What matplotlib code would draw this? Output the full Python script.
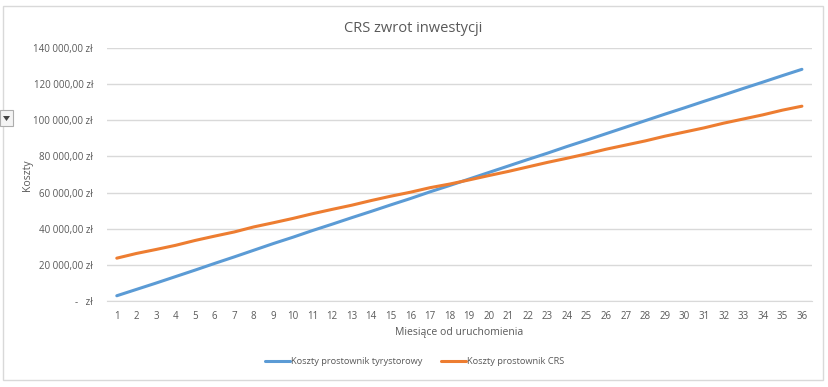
import numpy as np
import matplotlib.pyplot as plt
from matplotlib.patches import Rectangle, Polygon
from matplotlib.ticker import FuncFormatter

months = list(range(1, 37))
koszty_tyrystor = [2900, 6400, 9900, 13500, 17100, 20800, 24400, 28100, 31800, 35300,
                   39000, 42500, 46100, 49600, 53200, 56700, 60400, 63900, 67500, 71100,
                   74700, 78300, 81800, 85500, 89000, 92600, 96200, 99800, 103400, 106900,
                   110500, 114000, 117600, 121100, 124700, 128200]
koszty_crs = [23700, 26300, 28500, 30800, 33500, 35900, 38200, 41000, 43300, 45700,
              48300, 50700, 53000, 55600, 58000, 60200, 62700, 64700, 67000, 69400,
              71700, 74200, 76700, 79000, 81400, 84000, 86300, 88600, 91200, 93500,
              95800, 98400, 100700, 103000, 105600, 107800]
yticks = [0, 20000, 40000, 60000, 80000, 100000, 120000, 140000]

plt.rcParams['font.family'] = ['Open Sans', 'DejaVu Sans']
txt = '#595959'
grid = '#d9d9d9'

fig = plt.figure(figsize=(8.29, 3.87), dpi=100)
ax = fig.add_axes([107/829, 1-301/387, (811.7-107)/829, (301-48)/387])

ax.plot(months, koszty_tyrystor, color='#5B9BD5', lw=2.2, solid_capstyle='round',
        label='Koszty prostownik tyrystorowy')
ax.plot(months, koszty_crs, color='#ED7D31', lw=2.2, solid_capstyle='round',
        label='Koszty prostownik CRS')

def zl(v, pos):
    if v == 0:
        return '-   zł'
    s = '{:,.2f}'.format(v).replace(',', ' ').replace('.', ',')
    return s + ' zł'

ax.set_xlim(0.5, 36.5)
ax.set_ylim(0, 140000)
ax.set_yticks(yticks)
ax.yaxis.set_major_formatter(FuncFormatter(zl))
ax.set_xticks(months)
ax.grid(axis='y', color=grid, lw=1)
ax.set_axisbelow(True)
for s in ['top', 'right', 'left']:
    ax.spines[s].set_visible(False)
ax.spines['bottom'].set_color(grid)
ax.tick_params(length=0, labelsize=7, labelcolor=txt)
ax.tick_params(axis='y', pad=10)
ax.tick_params(axis='x', pad=7)

ax.set_xlabel('Miesiące od uruchomienia', fontsize=7.5, color=txt, labelpad=4)
fig.text(27/829, 1-175/387, 'Koszty', rotation=90, fontsize=7.5, color=txt,
         ha='center', va='center')
fig.text(413/829, 1-28/387, 'CRS zwrot inwestycji', fontsize=10.5, color=txt,
         ha='center', va='center')

fig.legend(*ax.get_legend_handles_labels(), loc='center', bbox_to_anchor=(415/829, 1-362/387),
           ncol=2, frameon=False, fontsize=6.7, labelcolor=txt, handlelength=2.7,
           handletextpad=0.1, columnspacing=2.0, borderaxespad=0, borderpad=0)

# chart border and the little filter button
fig.patches.append(Rectangle((3/829, 1-380/387), 820/829, 374/387, transform=fig.transFigure,
                             fill=False, ec=grid, lw=1))
fig.patches.append(Rectangle((0, 1-126/387), 13/829, 16/387, transform=fig.transFigure,
                             fc='#f4f4f4', ec='#adadad', lw=0.8))
fig.patches.append(Polygon([(3/829, 1-116/387), (10/829, 1-116/387), (6.5/829, 1-121/387)],
                           closed=True, transform=fig.transFigure, fc='#444444', ec='none'))

fig.savefig('out.png', dpi=100)
